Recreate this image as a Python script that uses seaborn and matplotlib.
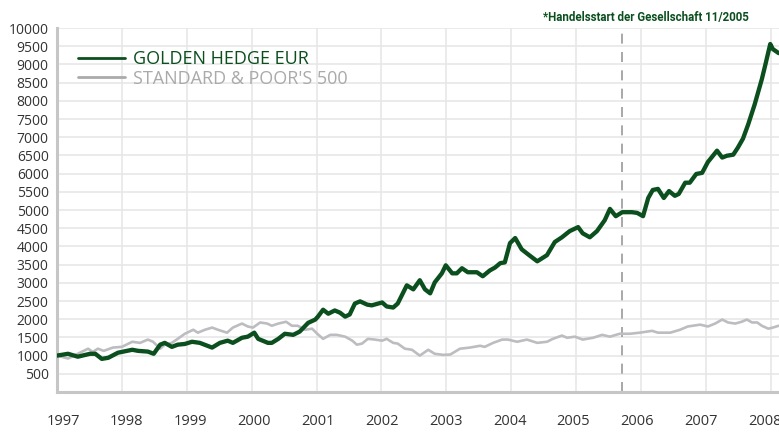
import numpy as np
import pandas as pd
import matplotlib
matplotlib.use('Agg')
import matplotlib.pyplot as plt
import seaborn as sns

# Golden Hedge EUR (decimal year, index value)
gh_years = [1997.00, 1997.17, 1997.32, 1997.51, 1997.59, 1997.69, 1997.79, 1997.94,
            1998.16, 1998.25, 1998.40, 1998.49, 1998.59, 1998.66, 1998.77, 1998.86,
            1998.97, 1999.08, 1999.20, 1999.39, 1999.51, 1999.63, 1999.71, 1999.85,
            1999.94, 2000.04, 2000.10, 2000.25, 2000.31, 2000.41, 2000.51, 2000.64,
            2000.74, 2000.87, 2000.98, 2001.02, 2001.10, 2001.18, 2001.28, 2001.36,
            2001.44, 2001.51, 2001.59, 2001.67, 2001.78, 2001.85, 2002.01, 2002.08,
            2002.18, 2002.25, 2002.39, 2002.49, 2002.59, 2002.67, 2002.75, 2002.82,
            2002.93, 2002.99, 2003.09, 2003.16, 2003.24, 2003.33, 2003.47, 2003.56,
            2003.67, 2003.75, 2003.83, 2003.90, 2003.98, 2004.06, 2004.16, 2004.26,
            2004.40, 2004.55, 2004.67, 2004.78, 2004.90, 2005.03, 2005.10, 2005.21,
            2005.32, 2005.44, 2005.52, 2005.61, 2005.71, 2005.86, 2005.94, 2006.03,
            2006.11, 2006.18, 2006.26, 2006.35, 2006.43, 2006.52, 2006.58, 2006.68,
            2006.75, 2006.85, 2006.94, 2007.03, 2007.17, 2007.25, 2007.32, 2007.42,
            2007.49, 2007.57, 2007.65, 2007.75, 2007.86, 2007.92, 2007.99, 2008.03,
            2008.12]
gh_values = [1000, 1050, 970, 1050, 1050, 910, 940, 1080,
             1160, 1130, 1110, 1050, 1300, 1350, 1240, 1300,
             1320, 1380, 1350, 1220, 1350, 1410, 1350, 1490,
             1520, 1630, 1460, 1350, 1350, 1460, 1600, 1570,
             1660, 1900, 1990, 2070, 2260, 2150, 2240, 2180,
             2070, 2130, 2430, 2490, 2400, 2380, 2460, 2350,
             2320, 2430, 2930, 2820, 3070, 2820, 2710, 3010,
             3260, 3480, 3260, 3260, 3400, 3290, 3290, 3180,
             3340, 3420, 3540, 3560, 4090, 4230, 3920, 3780,
             3590, 3760, 4120, 4250, 4420, 4530, 4360, 4250,
             4420, 4720, 5030, 4830, 4940, 4940, 4920, 4830,
             5330, 5550, 5580, 5330, 5520, 5390, 5440, 5750,
             5750, 5990, 6020, 6320, 6630, 6440, 6490, 6520,
             6710, 6960, 7350, 7900, 8590, 9030, 9560, 9420,
             9310]

# Standard & Poor's 500 (decimal year, index value)
sp_years = [1997.00, 1997.17, 1997.32, 1997.48, 1997.55, 1997.63, 1997.72, 1997.86,
            1998.00, 1998.16, 1998.28, 1998.40, 1998.48, 1998.59, 1998.66, 1998.77,
            1998.86, 1998.97, 1999.10, 1999.17, 1999.28, 1999.39, 1999.48, 1999.62,
            1999.71, 1999.85, 1999.94, 2000.02, 2000.13, 2000.24, 2000.31, 2000.41,
            2000.53, 2000.62, 2000.71, 2000.82, 2000.93, 2001.01, 2001.10, 2001.21,
            2001.31, 2001.44, 2001.55, 2001.62, 2001.70, 2001.79, 2001.90, 2002.01,
            2002.08, 2002.18, 2002.25, 2002.36, 2002.47, 2002.59, 2002.72, 2002.82,
            2002.95, 2003.06, 2003.21, 2003.36, 2003.52, 2003.59, 2003.72, 2003.86,
            2003.95, 2004.09, 2004.24, 2004.40, 2004.55, 2004.64, 2004.78, 2004.86,
            2004.98, 2005.10, 2005.26, 2005.40, 2005.52, 2005.67, 2005.83, 2005.98,
            2006.17, 2006.26, 2006.45, 2006.60, 2006.72, 2006.91, 2007.03, 2007.14,
            2007.25, 2007.34, 2007.45, 2007.55, 2007.63, 2007.71, 2007.79, 2007.86,
            2007.96, 2008.03, 2008.12]
sp_values = [1000, 920, 1050, 1190, 1100, 1190, 1130, 1220,
             1240, 1380, 1350, 1440, 1380, 1190, 1300, 1350,
             1460, 1600, 1710, 1630, 1710, 1770, 1710, 1630,
             1770, 1880, 1800, 1770, 1910, 1880, 1820, 1880,
             1930, 1820, 1820, 1710, 1740, 1600, 1460, 1570,
             1570, 1520, 1410, 1300, 1330, 1460, 1440, 1410,
             1460, 1350, 1330, 1190, 1160, 1000, 1160, 1050,
             1020, 1030, 1190, 1220, 1270, 1240, 1350, 1440,
             1440, 1380, 1440, 1350, 1380, 1460, 1550, 1490,
             1520, 1440, 1490, 1570, 1520, 1600, 1600, 1630,
             1680, 1630, 1630, 1710, 1800, 1850, 1800, 1880,
             1990, 1910, 1880, 1930, 1990, 1910, 1910, 1820,
             1740, 1770, 1820]

year_labels = list(range(1997, 2009))
y_ticks = list(range(500, 10001, 500))
start_mark = 2005.70
gh_name = 'GOLDEN HEDGE EUR'
sp_name = "STANDARD & POOR'S 500"
note = '*Handelsstart der Gesellschaft 11/2005'

GREEN = '#0b4f1e'
GREY = '#bdbdc1'

sns.set_style('white')
plt.rcParams['font.family'] = ['Open Sans', 'DejaVu Sans']

gh = pd.DataFrame({'year': gh_years, 'value': gh_values})
sp = pd.DataFrame({'year': sp_years, 'value': sp_values})

fig = plt.figure(figsize=(7.79, 4.36), dpi=100)
ax = fig.add_axes([57 / 779, 44 / 436, 1 - 57 / 779, 364 / 436])

sns.lineplot(data=sp, x='year', y='value', ax=ax, color=GREY, linewidth=1.9,
             label=sp_name, zorder=3)
sns.lineplot(data=gh, x='year', y='value', ax=ax, color=GREEN, linewidth=3.1,
             label=gh_name, zorder=4)

ax.axvline(start_mark, color='#9a9a9a', linewidth=1.2, dashes=(6, 5), zorder=2)

ax.set_xlim(1997.0, 2008.125)
ax.set_ylim(0, 10000)

# gridlines at year starts, labels drift slightly right of them
ax.set_xticks(year_labels)
ax.set_xticklabels([])
ax.set_xticks([1997 + (6 + 63.8 * i) / 64.9 for i in range(len(year_labels))], minor=True)
ax.set_xticklabels([str(y) for y in year_labels], minor=True, fontsize=10.5, color='#333333')
ax.set_yticks(y_ticks)
ax.set_yticklabels([str(v) for v in y_ticks], fontsize=10, color='#333333')
ax.tick_params(axis='x', which='both', length=0, pad=16)
ax.tick_params(axis='y', length=0, pad=6)
ax.grid(True, which='major', color='#e6e6e6', linewidth=1.1)
ax.set_xlabel('')
ax.set_ylabel('')

for side in ['top', 'right']:
    ax.spines[side].set_visible(False)
for side in ['left', 'bottom']:
    ax.spines[side].set_color('#c6c6c6')
    ax.spines[side].set_linewidth(2.2)

handles, labels = ax.get_legend_handles_labels()
leg = ax.legend(handles[::-1], labels[::-1], loc='upper left',
                bbox_to_anchor=(0.029, 0.94), frameon=False, fontsize=13,
                handlelength=2.6, handletextpad=0.45, labelspacing=0.1,
                borderpad=0, borderaxespad=0)
for txt, col in zip(leg.get_texts(), [GREEN, '#aaaaaa']):
    txt.set_color(col)
for line in leg.get_lines():
    line.set_linewidth(2.0)
leg.get_lines()[1].set_color('#aaaaaa')

fig.text(646 / 779, 1 - 18 / 436, note, ha='center', va='center',
         fontsize=8.3, fontweight='bold', color=GREEN,
         family=['Roboto', 'DejaVu Sans'])

fig.savefig('out.png', dpi=100)
